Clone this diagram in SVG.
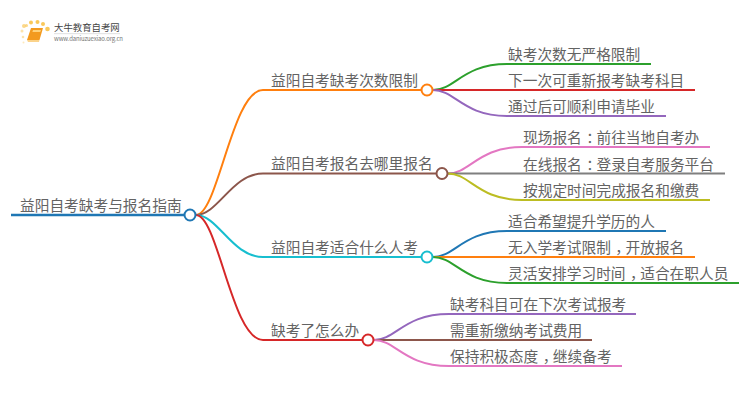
<svg xmlns="http://www.w3.org/2000/svg" width="750" height="410" viewBox="0 0 750 410">
<style>
text{font-family:"Noto Sans CJK SC","Liberation Sans",sans-serif;font-size:14.7px;fill:#636363}
.p{letter-spacing:-4.5px}
.l{fill:none;stroke-width:2}
.n{fill:#fff;stroke-width:2}
.d{fill:#f9c85a}
</style>
<rect width="750" height="410" fill="#fff"/>
<g id="logo">
<circle class="d" cx="24" cy="26" r="2" opacity=".7"/><circle class="d" cx="22" cy="31" r="1.500" opacity=".5"/><circle class="d" cx="26.500" cy="25.500" r="1.500" opacity=".7"/><circle class="d" cx="31" cy="22.500" r="2"/><circle class="d" cx="37.500" cy="22" r="2"/><circle class="d" cx="43" cy="24" r="2"/><circle class="d" cx="47.500" cy="29" r="2.300"/><circle class="d" cx="23" cy="37" r="1.300" opacity=".5"/><circle class="d" cx="23.500" cy="42.500" r="1" opacity=".4"/>
<path d="M31 28H43L39.500 40H27Z" fill="#f39a1f"/><path d="M27 40H39.500L39 42H28Z" fill="#fbd38a"/><path d="M33 30H41L40.300 32H32.400Z" fill="#ffd27a"/>
<text x="54" y="30.500" style="font-size:9.400px;fill:#444">大牛教育自考网</text>
<rect x="54" y="33.500" width="66" height=".6" fill="#ccc"/>
<text x="54" y="41" style="font-size:6px;fill:#777" textLength="69">www.daniuzuexiao.org.cn</text>
</g>
<g id="connectors">
<path class="l" d="M11 215H184" stroke="#1f77b4" style="stroke-width:2.500"/>
<path class="l" d="M196 215C218 215 232 90 263 90H421" stroke="#ff7f0e"/>
<path class="l" d="M196 215C218 215 232 173.500 263 173.500H436" stroke="#8c564b"/>
<path class="l" d="M196 215C218 215 232 257 263 257H421" stroke="#17becf"/>
<path class="l" d="M196 215C218 215 232 340 263 340H362" stroke="#d62728"/>
<path class="l" d="M433 90C455 90 463 64 507 64H651" stroke="#2ca02c"/>
<path class="l" d="M433 90H695" stroke="#d62728"/>
<path class="l" d="M433 90C455 90 463 116 507 116H666" stroke="#9467bd"/>
<path class="l" d="M448 173.500C470 173.500 478 147 522 147H710" stroke="#e377c2"/>
<path class="l" d="M448 173.500H725" stroke="#7f7f7f"/>
<path class="l" d="M448 173.500C470 173.500 478 200 522 200H710" stroke="#bcbd22"/>
<path class="l" d="M433 257C455 257 463 231 507 231H666" stroke="#1f77b4"/>
<path class="l" d="M433 257H695" stroke="#ff7f0e"/>
<path class="l" d="M433 257C455 257 463 283 507 283H739" stroke="#2ca02c"/>
<path class="l" d="M374 340C396 340 404 314 449 314H636" stroke="#9467bd"/>
<path class="l" d="M374 340H592" stroke="#8c564b"/>
<path class="l" d="M374 340C396 340 404 366 449 366H622" stroke="#e377c2"/>
</g>
<g id="root"><circle class="n" cx="190" cy="215" r="5.500" stroke="#1f77b4"/><text x="20" y="210.500">益阳自考缺考与报名指南</text></g>
<g id="b1"><circle class="n" cx="427" cy="90" r="5.500" stroke="#ff7f0e"/><text x="271" y="85.500">益阳自考缺考次数限制</text></g>
<g id="b2"><circle class="n" cx="442" cy="173.500" r="5.500" stroke="#8c564b"/><text x="271" y="169">益阳自考报名去哪里报名</text></g>
<g id="b3"><circle class="n" cx="427" cy="257" r="5.500" stroke="#17becf"/><text x="271" y="252.500">益阳自考适合什么人考</text></g>
<g id="b4"><circle class="n" cx="368" cy="340" r="5.500" stroke="#d62728"/><text x="271" y="335.500">缺考了怎么办</text></g>
<g id="l11"><text x="508" y="60">缺考次数无严格限制</text></g>
<g id="l12"><text x="508" y="86">下一次可重新报考缺考科目</text></g>
<g id="l13"><text x="508" y="112">通过后可顺利申请毕业</text></g>
<g id="l21"><text x="523" y="143">现场报名<tspan class="p" dx="4.500">：</tspan>前往当地自考办</text></g>
<g id="l22"><text x="523" y="169.500">在线报名<tspan class="p" dx="4.500">：</tspan>登录自考服务平台</text></g>
<g id="l23"><text x="523" y="196">按规定时间完成报名和缴费</text></g>
<g id="l31"><text x="508" y="227">适合希望提升学历的人</text></g>
<g id="l32"><text x="508" y="253">无入学考试限制<tspan class="p" dx="4.500">，</tspan>开放报名</text></g>
<g id="l33"><text x="508" y="279">灵活安排学习时间<tspan class="p" dx="4.500">，</tspan>适合在职人员</text></g>
<g id="l41"><text x="450" y="310">缺考科目可在下次考试报考</text></g>
<g id="l42"><text x="450" y="336">需重新缴纳考试费用</text></g>
<g id="l43"><text x="450" y="362">保持积极态度<tspan class="p" dx="4.500">，</tspan>继续备考</text></g>
</svg>
